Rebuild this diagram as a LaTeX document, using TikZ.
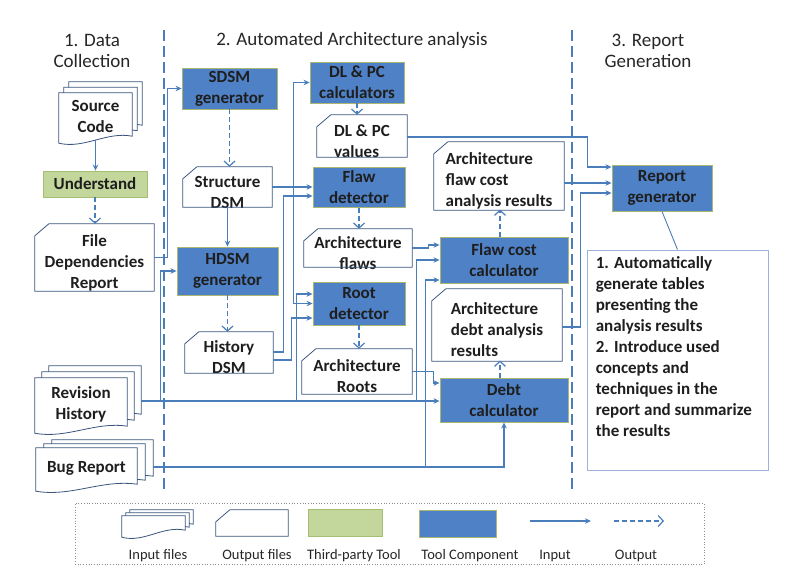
\documentclass[tikz,border=0pt]{standalone}
\usepackage{fontspec}
\setmainfont{Carlito}
\usetikzlibrary{arrows.meta,calc,positioning}
\definecolor{linecol}{HTML}{4A7EBB}
\definecolor{toolcol}{HTML}{4F81C6}
\definecolor{toolrim}{HTML}{A9B772}
\definecolor{tpcol}{HTML}{C3D69B}
\definecolor{tprim}{HTML}{A5BF72}
\definecolor{framecol}{HTML}{3B557F}
\definecolor{notecol}{HTML}{9DB3DB}
\definecolor{txtcol}{HTML}{1E1E1E}
\pgfdeclarelayer{background}
\pgfsetlayers{background,main}
\tikzstyle{tool}=[rectangle,fill=toolcol,draw=toolrim,line width=0.9pt,inner sep=0pt,align=center,text=txtcol,font=\bfseries\fontsize{17}{21}\selectfont]
\tikzstyle{thirdparty}=[tool,fill=tpcol,draw=tprim]
\tikzstyle{outfile}=[rectangle,inner sep=0pt,text=txtcol,font=\bfseries\fontsize{17}{21}\selectfont]
\tikzstyle{infile}=[outfile,align=center]
\tikzstyle{frame}=[draw=framecol,line width=0.8pt]
\tikzstyle{page}=[draw=framecol,line width=0.8pt,fill=white]
\tikzstyle{inarrow}=[draw=linecol,line width=1.1pt,-{Stealth[length=6pt,width=5.5pt]}]
\tikzstyle{outarrow}=[draw=linecol,line width=1.1pt,dash pattern=on 5pt off 3pt,-{Straight Barb[length=5pt,width=11pt,line width=1.2pt]}]
\tikzstyle{sepline}=[draw=linecol,line width=1.4pt,dash pattern=on 11pt off 5pt]
\tikzstyle{heading}=[text=black!85,font=\fontsize{19}{21}\selectfont,align=center]
\tikzstyle{legtext}=[text=black!85,font=\fontsize{14.5}{17}\selectfont]

\begin{document}
\begin{tikzpicture}[x=1pt,y=-1pt]
  \useasboundingbox (0,0) rectangle (795,579);

  % phase headings and separators
  \node[heading] (hd1) at (92,51) {1. Data\\Collection};
  \node[heading] (hd2) at (352,40) {2. Automated Architecture analysis};
  \node[heading] (hd3) at (648,51) {3. Report\\Generation};
  \coordinate (sepa1) at (164,30); \coordinate (sepb1) at (164,492);
  \coordinate (sepa2) at (572,30); \coordinate (sepb2) at (572,492);
  \draw[sepline] (sepa1) -- (sepb1);
  \draw[sepline] (sepa2) -- (sepb2);

  % input files (front page carries the text)
  \foreach \x/\y/\w/\h/\name/\label in {95.5/116.5/73/47/src/{Source\\Code}, 81/404/92/52/rev/{Revision\\History}, 86.5/468/101/40/bug/{Bug Report}, 153.5/525/63/18/legin/{}}
     \node[infile,minimum width=\w,minimum height=\h] (\name) at (\x,\y) {\label};

  \begin{pgfonlayer}{background}
  \foreach \name/\dx/\dy in {src/5/5.5, rev/7/6, bug/8/4, legin/4/3}
    \foreach \k in {2,1,0} {
      \path ($(\name.north west)+(\k*\dx,-\k*\dy)$) coordinate (pnw)
            ($(\name.south east)+(\k*\dx,-\k*\dy)$) coordinate (pse);
      \draw[page] (pnw) -- (pnw -| pse) -- ($(pse)+(0,-4)$)
         .. controls ($(pse)!0.35!(pnw |- pse)+(0,-9)$) and ($(pse)!0.65!(pnw |- pse)+(0,9)$)
         .. ($(pnw |- pse)+(0,3)$) -- cycle;
    }
  \end{pgfonlayer}

  % output files
  \foreach \x/\y/\w/\h/\al/\name/\label in {94.5/262.5/119/77/center/fdr/{File\\Dependencies\\Report}, 227.5/192/89/50/center/sdsmo/{Structure\\DSM}, 229/357.5/88/51/center/hist/{History\\DSM}, 362/141/90/52/left/dlpcv/{DL \& PC\\values}, 358/253/108/48/center/flaws/{Architecture\\flaws}, 357/376.5/110/55/center/roots/{Architecture\\Roots}, 499/181/130/78/left/fcres/{Architecture\\flaw cost\\analysis results}, 497/330/130/82/left/dres/{Architecture\\debt analysis\\results}, 252/523/72/26/center/legout/{}}
     \node[outfile,align=\al,minimum width=\w,minimum height=\h] (\name) at (\x,\y) {\label};

  \foreach \name/\c in {fdr/10, sdsmo/10, hist/10, dlpcv/10, flaws/10, roots/10, fcres/10, dres/10, legout/0}
     \draw[frame] ($(\name.north west)+(0,12)$) -- ($(\name.north west)+(14,0)$) -- (\name.north east)
        -- ($(\name.south east)+(0,-\c)$) -- ($(\name.south west)+(0,-\c)$) -- cycle;

  % tool components
  \node[thirdparty,minimum width=104,minimum height=26] (und) at (95,184) {Understand};
  \foreach \x/\y/\w/\h/\name/\label in {229.5/88.5/95/41/sdsm/{SDSM\\generator}, 227.5/271/101/48/hdsm/{HDSM\\generator}, 357/82.5/94/41/dlpc/{DL \& PC\\calculators}, 359/187.5/92/40/flawd/{Flaw\\detector}, 359/303.5/92/43/rootd/{Root\\detector}, 504/260/128/46/fcalc/{Flaw cost\\calculator}, 504/400/128/44/dcalc/{Debt\\calculator}, 662/188/100/46/repgen/{Report\\generator}}
     \node[tool,minimum width=\w,minimum height=\h] (\name) at (\x,\y) {\label};

  % report note
  \node[rectangle,draw=notecol,line width=0.9pt,minimum width=181,minimum height=220] (note) at (677.5,360) {};
  \node[outfile,align=left,anchor=north west] (notetxt) at ($(note.north west)+(9,6.5)$)
     {1. Automatically\\generate tables\\presenting the\\analysis results\\2. Introduce used\\concepts and\\techniques in the\\report and summarize\\the results};

  % data collection
  \draw[inarrow] (src.south) -- (src.south |- und.north);
  \draw[outarrow] (und.south) -- (und.south |- fdr.north);
  \coordinate (revout) at ([xshift=14pt,yshift=3pt]rev.east);
  \coordinate (bugout) at ([xshift=16pt,yshift=1pt]bug.east);
  \draw[inarrow] ([yshift=5pt]fdr.east) -- ++(13,0) |- (sdsm.west);
  \draw[inarrow] (revout) -- ++(19,0) |- (hdsm.west);

  % dsm generation
  \draw[outarrow] (sdsm.south) -- (sdsm.south |- sdsmo.north);
  \draw[inarrow] ([yshift=10pt]sdsmo.south) -- (sdsmo.south |- hdsm.north);
  \draw[outarrow] (hdsm.south) -- (hdsm.south |- hist.north);

  % detectors
  \draw[inarrow] ([yshift=5pt]sdsmo.east) -- ++(21,0) |- (dlpc.west);
  \draw[inarrow] ([yshift=5pt]sdsmo.east) -- ([yshift=5pt]sdsmo.east -| flawd.west);
  \draw[inarrow] ([yshift=5pt]sdsmo.east) -- ++(21,0) |- (rootd.west);
  \draw[inarrow] ([yshift=5.5pt]hist.east) -- ++(10,0) |- ([yshift=-8.5pt]flawd.west);
  \draw[inarrow] ([yshift=-2.5pt]hist.east) -- ++(18,0) |- ([yshift=-14.5pt]rootd.west);
  \draw[inarrow] (revout) -| ([xshift=-16pt,yshift=9.5pt]rootd.west) -- ([yshift=9.5pt]rootd.west);
  \draw[outarrow] (dlpc.south) -- (dlpc.south |- dlpcv.north);
  \draw[outarrow] (flawd.south) -- (flawd.south |- flaws.north);
  \draw[outarrow] (rootd.south) -- (rootd.south |- roots.north);

  % cost calculators
  \draw[inarrow] ([yshift=5pt]flaws.east) -- ++(16,0) |- ([yshift=15pt]fcalc.west);
  \draw[inarrow] (revout) -| ([xshift=-23pt]fcalc.west) -- (fcalc.west);
  \draw[inarrow] (bugout) -| ([xshift=-14pt,yshift=-20pt]fcalc.west) -- ([yshift=-20pt]fcalc.west);
  \draw[inarrow] ([yshift=5pt]roots.east) -- ++(21,0) |- ([yshift=17pt]dcalc.west);
  \draw[inarrow] (revout) -- (revout -| dcalc.west);
  \draw[inarrow] (bugout) -| (dcalc.south);
  \draw[outarrow] ([xshift=-4pt]fcalc.north) -- ++(0,-27);
  \draw[outarrow] ([xshift=-4pt]dcalc.north) -- ++(0,-17);

  % report
  \draw[inarrow] ([yshift=4pt]dlpcv.east) -- ++(180,0) |- ([yshift=21pt]repgen.west);
  \draw[inarrow] ([yshift=-2pt]fcres.east) -- ([yshift=5pt]repgen.west);
  \draw[inarrow] ([yshift=3pt]dres.east) -- ++(18,0) |- ([yshift=-5pt]repgen.west);
  \draw[draw=linecol,line width=0.9pt] (repgen.south) -- (note.north);

  % legend
  \node[rectangle,draw=black!45,dotted,line width=0.7pt,minimum width=629,minimum height=61] (leg) at (389.5,533.5) {};
  \node[thirdparty,minimum width=74,minimum height=27] (legtp) at (345,523) {};
  \node[tool,minimum width=77,minimum height=27] (legtool) at (457.5,523.5) {};
  \coordinate (legia) at (530,521); \coordinate (legib) at (591,521);
  \coordinate (legoa) at (614,521); \coordinate (legob) at (664,521);
  \draw[inarrow] (legia) -- (legib);
  \draw[outarrow] (legoa) -- (legob);
  \foreach \x/\name/\label in {158/ltin/Input files, 257/ltout/Output files, 354/lttp/Third-party Tool, 470/lttool/Tool Component, 555/ltia/Input, 636/ltoa/Output}
     \node[legtext] (\name) at (\x,556) {\label};
\end{tikzpicture}
\end{document}
